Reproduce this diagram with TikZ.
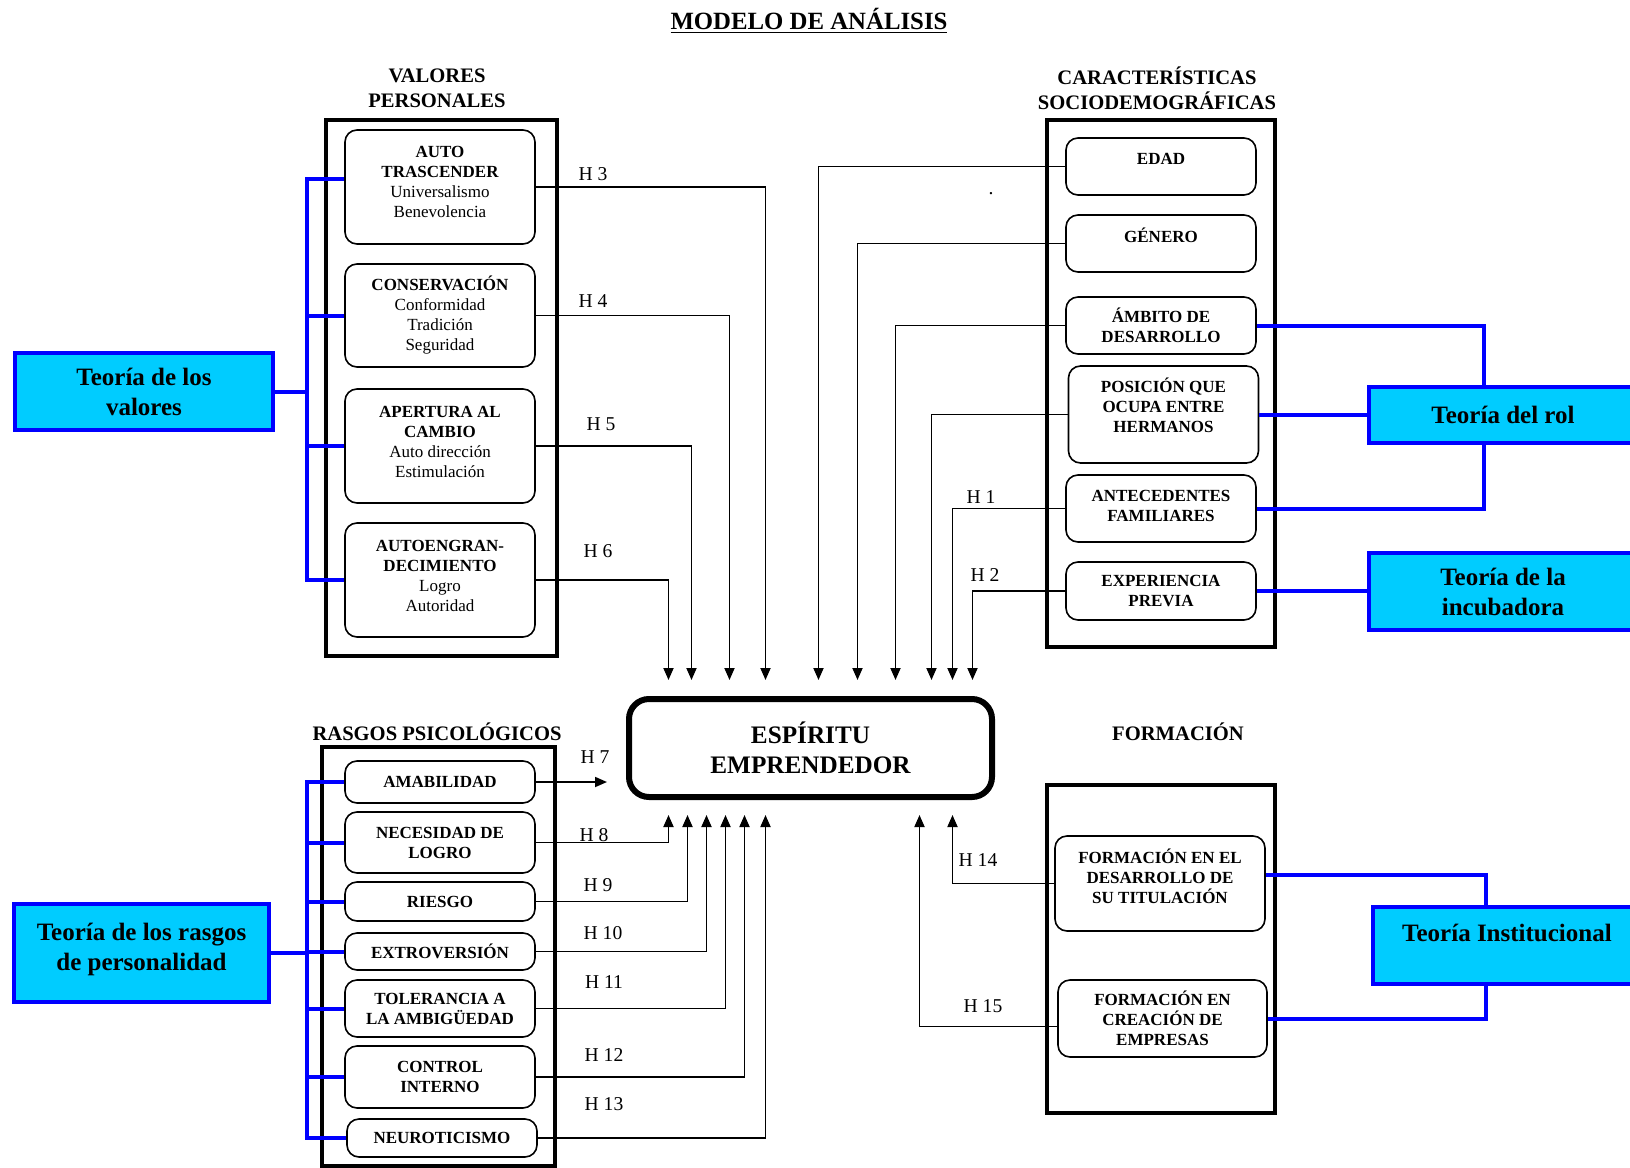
\documentclass[tikz,border=0pt]{standalone}
\usepackage{fontspec}
\setmainfont{Liberation Serif}
\usetikzlibrary{arrows.meta,calc}
\definecolor{tcyan}{RGB}{0,204,255}
\definecolor{tblue}{RGB}{0,0,255}
\tikzset{
    itembox/.style={draw, rounded corners=6pt, line width=0.8pt, align=center, minimum width=95pt, inner sep=1pt, font=\fontsize{8.5}{10}\selectfont\bfseries},
    outerframe/.style={line width=2.2pt},
    theory/.style={draw=tblue, fill=tcyan, line width=2.4pt, align=center, minimum width=134pt, font=\fontsize{12.5}{15}\selectfont\bfseries},
    blu/.style={draw=tblue, line width=2pt},
    hyp/.style={-{Triangle[length=6pt,width=5pt]}, line width=0.9pt},
    hypdown/.style={hyp, shorten >=8pt},
    hypup/.style={hyp, shorten >=7.5pt},
    hlab/.style={font=\fontsize{9.8}{11}\selectfont},
    seclab/.style={align=center, font=\fontsize{10.3}{12.5}\selectfont\bfseries},
}
\begin{document}
\begin{tikzpicture}[x=0.5pt, y=-0.5pt]
    \useasboundingbox (0,0) rectangle (1630,1168);
    \clip (0,0) rectangle (1630,1168);

    \node[font=\fontsize{12.4}{14}\selectfont\bfseries] (titulo) at (809,21) {\underline{MODELO DE ANÁLISIS}};

    % valores personales
    \node[seclab] (lval) at (437,88) {VALORES\\PERSONALES};
    \draw[outerframe] (326,120) rectangle (557,656);
    \node[itembox, minimum height=57pt, text depth=5pt] (autotras) at (440,187) {AUTO\\TRASCENDER\\\mdseries Universalismo\\\mdseries Benevolencia};
    \node[itembox, minimum height=51.5pt] (conserv) at (440,315.5) {CONSERVACIÓN\\\mdseries Conformidad\\\mdseries Tradición\\\mdseries Seguridad};
    \node[itembox, minimum height=57pt, text depth=4pt] (apert) at (440,446) {APERTURA AL\\CAMBIO\\\mdseries Auto dirección\\\mdseries Estimulación};
    \node[itembox, minimum height=57pt, text depth=4pt] (autoeng) at (440,580) {AUTOENGRAN-\\DECIMIENTO\\\mdseries Logro\\\mdseries Autoridad};

    % caracteristicas
    \node[seclab] (lcar) at (1157,88) {CARACTERÍSTICAS\\SOCIODEMOGRÁFICAS};
    \draw[outerframe] (1047,120) rectangle (1275,647);
    \node[itembox, minimum height=28.5pt, text depth=7.5pt] (edad) at (1161,166.5) {EDAD};
    \node[itembox, minimum height=28.5pt, text depth=8.5pt] (genero) at (1161,243.5) {GÉNERO};
    \node[itembox, minimum height=28.5pt] (ambito) at (1161,325.5) {ÁMBITO DE\\DESARROLLO};
    \node[itembox, minimum height=48.5pt, text depth=9pt] (posic) at (1163.5,414.5) {POSICIÓN QUE\\OCUPA ENTRE\\HERMANOS};
    \node[itembox, minimum height=33.5pt, text depth=3pt] (antec) at (1161,508.5) {ANTECEDENTES\\FAMILIARES};
    \node[itembox, minimum height=29pt] (exper) at (1161,591) {EXPERIENCIA\\PREVIA};
    \node[hlab] (punto) at (991,194) {.};

    % formacion
    \node[seclab] (lform) at (1178,732) {FORMACIÓN};
    \draw[outerframe] (1047,785) rectangle (1275,1113);
    \node[itembox, minimum width=105pt, minimum height=47.5pt, text depth=7pt] (fdes) at (1160,883.5) {FORMACIÓN EN EL\\DESARROLLO DE\\SU TITULACIÓN};
    \node[itembox, minimum width=104.5pt, minimum height=38.5pt] (fcre) at (1162.5,1018.5) {FORMACIÓN EN\\CREACIÓN DE\\EMPRESAS};

    % rasgos
    \node[seclab] (lras) at (437,732) {RASGOS PSICOLÓGICOS};
    \draw[outerframe] (322,747) rectangle (555,1166);
    \node[itembox, minimum height=21pt] (amab) at (440,782) {AMABILIDAD};
    \node[itembox, minimum height=30.5pt] (neces) at (440,842.5) {NECESIDAD DE\\LOGRO};
    \node[itembox, minimum height=19.5pt] (riesgo) at (440,901.5) {RIESGO};
    \node[itembox, minimum height=18.5pt] (extro) at (440,951.5) {EXTROVERSIÓN};
    \node[itembox, minimum height=28.5pt] (toler) at (440,1008.5) {TOLERANCIA A\\LA AMBIGÜEDAD};
    \node[itembox, minimum height=31pt] (control) at (440,1077) {CONTROL\\INTERNO};
    \node[itembox, minimum height=19pt] (neuro) at (442,1138) {NEUROTICISMO};

    % centro
    \node[draw, line width=3pt, rounded corners=10pt, minimum width=181.5pt, minimum height=49pt, align=center, font=\fontsize{12.6}{15}\selectfont\bfseries] (esp) at (810.5,748) {ESPÍRITU\\EMPRENDEDOR};

    % teorias
    \node[theory, minimum width=129pt, minimum height=38.5pt] (tval) at (144,391.5) {Teoría de los\\valores};
    \node[theory, minimum width=127.5pt, minimum height=49pt, text depth=6pt] (trasg) at (141.5,953) {Teoría de los rasgos\\de personalidad};
    \node[theory, minimum height=28pt] (trol) at (1503,415) {Teoría del rol};
    \node[theory, minimum height=38.5pt] (tinc) at (1503,591.5) {Teoría de la\\incubadora};
    \node[theory, minimum height=38.5pt, text depth=12.5pt] (tinst) at (1507,945.5) {Teoría Institucional};

    % hipotesis
    \foreach \n/\dx in {autotras/-45, conserv/-81, apert/-119, autoeng/-142}
        \draw[hypdown] (\n.east) -| ($(esp.north)+(\dx,0)$);
    \foreach \n/\dx in {edad/8, genero/47, ambito/85, posic/121, antec/142, exper/162}
        \draw[hypdown] (\n.west) -| ($(esp.north)+(\dx,0)$);
    \draw[hyp, shorten >=9.5pt] (amab.east) -- (amab.east -| esp.west);
    \foreach \n/\dx in {neces/-142, riesgo/-123, extro/-104, toler/-85, control/-66, neuro/-45}
        \draw[hypup] (\n.east) -| ($(esp.south)+(\dx,0)$);
    \draw[hypup] (fdes.west) -| ($(esp.south)+(142,0)$);
    \draw[hypup] ([yshift=-4pt]fcre.west) -| ($(esp.south)+(109,0)$);

    \node[hlab] (h1) at (981,497) {H 1};
    \node[hlab] (h2) at (985,575) {H 2};
    \node[hlab] (h3) at (593,174) {H 3};
    \node[hlab] (h4) at (593,301) {H 4};
    \node[hlab] (h5) at (601,424) {H 5};
    \node[hlab] (h6) at (598,551) {H 6};
    \node[hlab] (h7) at (595,757) {H 7};
    \node[hlab] (h8) at (594,835) {H 8};
    \node[hlab] (h9) at (598,885) {H 9};
    \node[hlab] (h10) at (603,933) {H 10};
    \node[hlab] (h11) at (604,982) {H 11};
    \node[hlab] (h12) at (604,1055) {H 12};
    \node[hlab] (h13) at (604,1104) {H 13};
    \node[hlab] (h14) at (978,860) {H 14};
    \node[hlab] (h15) at (983,1006) {H 15};

    % lineas azules
    \draw[blu] ([yshift=4pt]autotras.west) -- ++(-37,0) coordinate (vbus) -- (vbus |- autoeng.west) -- (autoeng.west);
    \foreach \n in {conserv, apert}
        \draw[blu] (\n.west) -- (\n.west -| vbus);
    \draw[blu] (tval.east) -- (tval.east -| vbus);

    \draw[blu] (amab.west) -- ++(-37,0) coordinate (rbus) -- (rbus |- neuro.west) -- (neuro.west);
    \foreach \n in {neces, riesgo, extro, toler, control}
        \draw[blu] (\n.west) -- (\n.west -| rbus);
    \draw[blu] (trasg.east) -- (trasg.east -| rbus);

    \draw[blu] (ambito.east) -| ($(trol.north)+(-19,0)$);
    \draw[blu] (posic.east) -- (posic.east -| trol.west);
    \draw[blu] (antec.east) -| ($(trol.south)+(-19,0)$);
    \draw[blu] (exper.east) -- (exper.east -| tinc.west);
    \draw[blu] ([yshift=4.5pt]fdes.east) -| ($(tinst.north)+(-21,0)$);
    \draw[blu] (fcre.east) -| ($(tinst.south)+(-21,0)$);

\end{tikzpicture}
\end{document}
